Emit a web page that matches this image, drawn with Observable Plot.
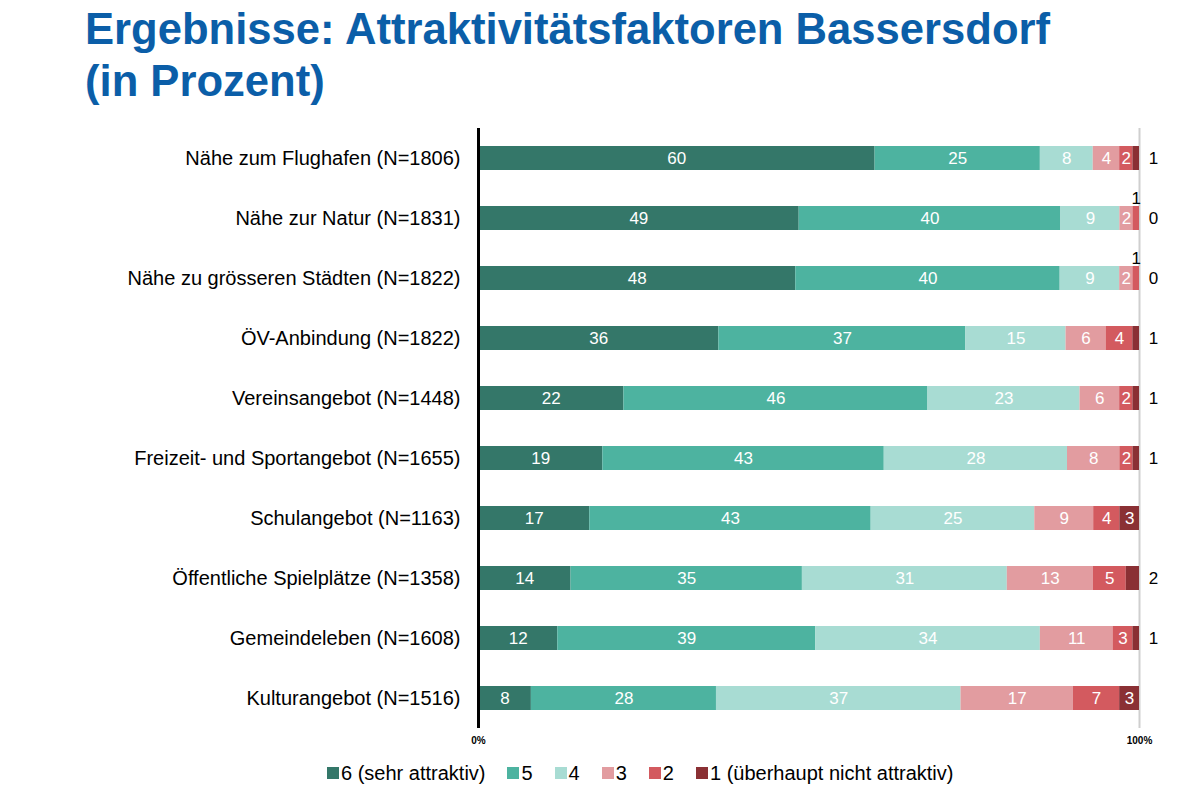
<!DOCTYPE html>
<html><head><meta charset="utf-8">
<script src="https://cdn.jsdelivr.net/npm/d3@7"></script>
<script src="https://cdn.jsdelivr.net/npm/@observablehq/plot@0.6"></script>
<style>
body{margin:0;background:#fff;font-family:"Liberation Sans",Arial,sans-serif;}
#title{height:110px;box-sizing:border-box;padding:3px 0 0 85px;color:#0b5ea8;font-weight:bold;font-size:43.6px;line-height:52px;}
#chart svg{display:block;}
#legend{margin-top:11px;padding-left:327px;font-size:20px;line-height:22px;color:#000;white-space:nowrap;}
#legend span.item{display:inline-flex;align-items:center;margin-right:22px;}
#legend span.sw{display:inline-block;width:12px;height:12px;margin-right:2px;}
</style></head><body>
<div id="title">Ergebnisse: Attraktivitätsfaktoren Bassersdorf<br>(in Prozent)</div>
<div id="chart"></div>
<div id="legend"></div>
<script>
const items = [
  "Nähe zum Flughafen (N=1806)",
  "Nähe zur Natur (N=1831)",
  "Nähe zu grösseren Städten (N=1822)",
  "ÖV-Anbindung (N=1822)",
  "Vereinsangebot (N=1448)",
  "Freizeit- und Sportangebot (N=1655)",
  "Schulangebot (N=1163)",
  "Öffentliche Spielplätze (N=1358)",
  "Gemeindeleben (N=1608)",
  "Kulturangebot (N=1516)"
];
const categories = ["6 (sehr attraktiv)", "5", "4", "3", "2", "1 (überhaupt nicht attraktiv)"];
const colors = ["#347769", "#4db3a0", "#a8dcd3", "#e29ca0", "#d35a5f", "#8a3034"];
const v6 = [60, 49, 48, 36, 22, 19, 17, 14, 12, 8];
const v5 = [25, 40, 40, 37, 46, 43, 43, 35, 39, 28];
const v4 = [8, 9, 9, 15, 23, 28, 25, 31, 34, 37];
const v3 = [4, 2, 2, 6, 6, 8, 9, 13, 11, 17];
const v2 = [2, 1, 1, 4, 2, 2, 4, 5, 3, 7];
const v1 = [1, 0, 0, 1, 1, 1, 3, 2, 1, 3];
const xTicks = [0, 1];
const xTickLabels = ["0%", "100%"];

const series = [v6, v5, v4, v3, v2, v1];
const data = [];
items.forEach((item, i) => {
  series.forEach((s, k) => data.push({item, cat: categories[k], k, value: s[i]}));
});
const outside = d => d.k === 5 && d.value <= 2;
const above = d => d.k === 4 && d.value <= 1;
const inside = d => !outside(d) && !above(d);

const stackOpts = {x: "value", y: "item", z: "cat", order: categories, offset: "normalize"};

const chart = Plot.plot({
  width: 1200,
  height: 640,
  marginLeft: 478,
  marginRight: 61,
  marginTop: 18,
  marginBottom: 22,
  style: {fontFamily: "Liberation Sans, Arial, sans-serif", background: "white"},
  x: {domain: [0, 1], axis: null},
  y: {domain: items, paddingInner: 0.6, paddingOuter: 0.3, axis: null},
  color: {domain: categories, range: colors},
  marks: [
    Plot.ruleX([1], {stroke: "#cfcfcf", strokeWidth: 2}),
    Plot.barX(data, Plot.stackX({...stackOpts, fill: "cat"})),
    Plot.text(data, Plot.stackX({...stackOpts, text: d => inside(d) ? String(d.value) : "", fill: "white", fontSize: 17})),
    Plot.text(data, Plot.stackX({...stackOpts, text: d => above(d) ? String(d.value) : "", fill: "black", fontSize: 17, dy: -20})),
    Plot.text(data, Plot.stackX2({...stackOpts, text: d => outside(d) ? String(d.value) : "", fill: "black", fontSize: 17, dx: 14})),
    Plot.ruleX([0], {stroke: "black", strokeWidth: 3}),
    Plot.axisY({tickSize: 0, tickPadding: 18, fontSize: 20, fill: "black", label: null}),
    Plot.axisX(xTicks, {tickSize: 0, tickPadding: 8, fontSize: 10, fontWeight: "bold", tickFormat: d => xTickLabels[xTicks.indexOf(d)], label: null})
  ]
});
document.getElementById("chart").appendChild(chart);

const legend = document.getElementById("legend");
categories.forEach((c, i) => {
  const it = document.createElement("span");
  it.className = "item";
  const sw = document.createElement("span");
  sw.className = "sw";
  sw.style.background = colors[i];
  it.appendChild(sw);
  it.appendChild(document.createTextNode(c));
  legend.appendChild(it);
});
</script>
</body></html>
